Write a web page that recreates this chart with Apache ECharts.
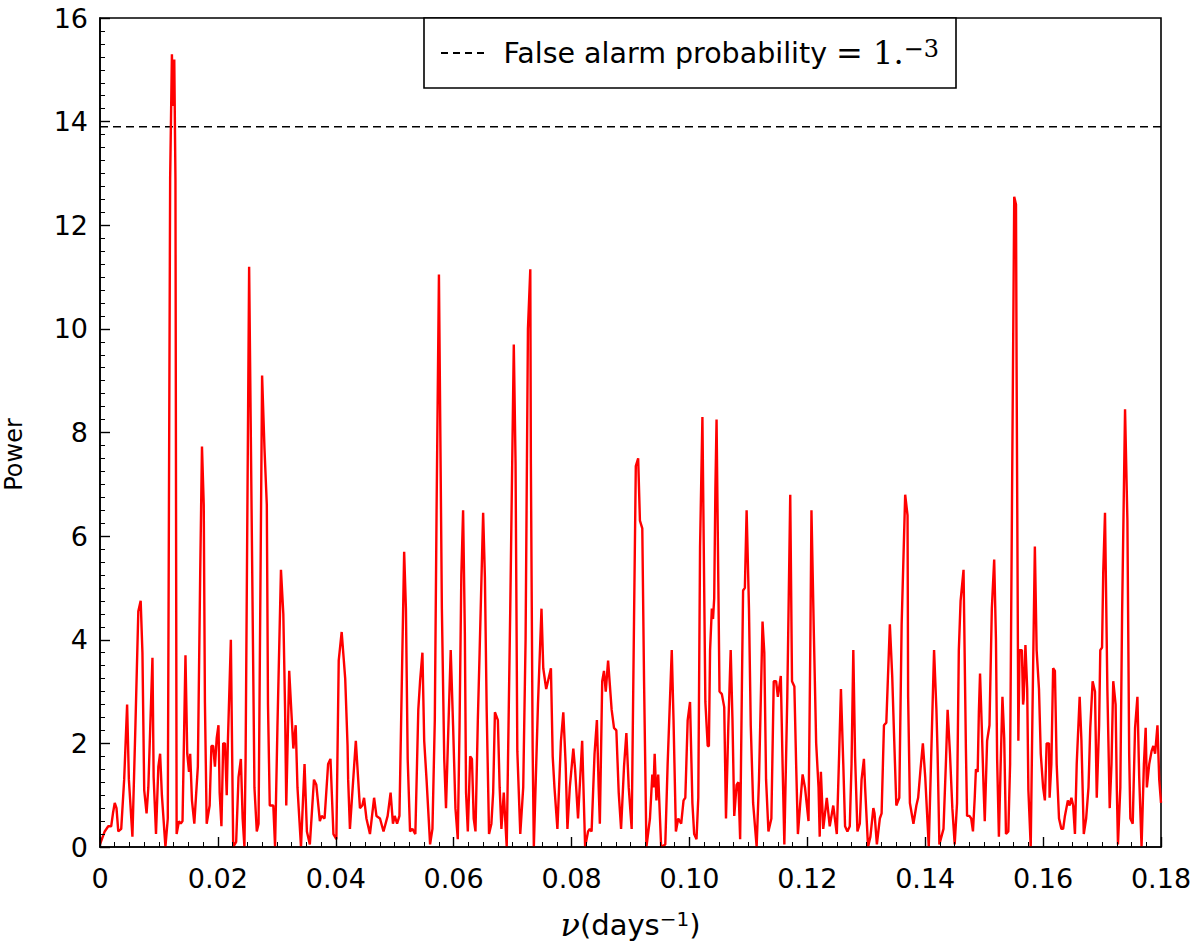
<!DOCTYPE html>
<html><head><meta charset="utf-8">
<script src="https://cdn.jsdelivr.net/npm/echarts@6/dist/echarts.min.js"></script>
<style>html,body{margin:0;padding:0;background:#fff}#c{width:1200px;height:949px}</style>
</head><body><div id="c"></div>
<script>
// Periodogram: [frequency (days^-1), power]
const powerLow = [
[0,0.05],[0.0008,0.3],[0.0014,0.4],[0.0019,0.4],[0.0022,0.65],[0.0025,0.85],[0.0028,0.75],[0.0031,0.3],[0.0036,0.35],
[0.0041,1.3],[0.0046,2.75],[0.0049,1.3],[0.0055,0.2],[0.0060,2.3],[0.0065,4.55],[0.0069,4.75],[0.0072,3.75],[0.0075,1.1],
[0.0079,0.65],[0.0082,1.15],[0.0089,3.65],[0.0091,1.35],[0.0095,0.25],[0.0099,1.55],[0.0102,1.8],[0.0105,1.0],[0.0111,0.0],
[0.0115,0.55],[0.0119,12.9],[0.0122,15.3],[0.0124,14.3],[0.0126,15.2],[0.0128,12.9],[0.0130,0.25],[0.0134,0.5],[0.0137,0.45],
[0.0140,0.5],[0.0145,3.7],[0.0148,1.8],[0.0151,1.45],[0.0153,1.8],[0.0156,0.9],[0.0160,0.45],[0.0166,1.55],[0.0170,5.3],
[0.0173,7.73],[0.0176,6.6],[0.0178,2.8],[0.0181,0.45],[0.0186,0.8],[0.0189,1.95],[0.0192,1.95],[0.0195,1.55],[0.0198,2.1],
[0.0201,2.35],[0.0203,1.05],[0.0206,0.4],[0.0209,2.0],[0.0212,2.0],[0.0215,1.0],[0.0217,2.05],[0.0222,4.0],[0.0226,0.0],
[0.0231,0.1],[0.0235,1.35],[0.0239,1.7],[0.0242,0.55],[0.0245,0.0],[0.0247,1.7],[0.0253,11.2],[0.0257,6.7],[0.0262,1.15],
[0.0266,0.3],[0.0269,0.45],[0.0275,9.1],[0.0279,7.7],[0.0283,6.6],[0.0285,2.75],[0.0288,0.8],[0.0294,0.8],[0.0297,0.0],
[0.0301,2.3],[0.0307,5.35],[0.0311,4.5],[0.0314,2.65],[0.0316,0.8],[0.0321,3.4],[0.0324,2.75],[0.0328,1.9],[0.0332,2.35],
[0.0335,1.15],[0.0341,0.0],[0.0347,1.6],[0.0351,0.3],[0.0356,0.05],[0.0363,1.3],[0.0367,1.2],[0.0373,0.5],[0.0376,0.6],
[0.0381,0.55],[0.0387,1.6],[0.0391,1.7],[0.0396,0.25],[0.0401,0.15],[0.0405,3.6],[0.0410,4.15],[0.0416,3.25],[0.0420,1.95],
[0.0421,1.3],[0.0424,0.35],[0.0434,2.05],[0.0441,0.75],[0.0445,0.8],[0.0448,0.95],[0.0452,0.55],[0.0458,0.25],[0.0465,0.95],
[0.0469,0.6],[0.0475,0.55],[0.0481,0.3],[0.0488,0.6],[0.0493,1.05],[0.0497,0.45],[0.0500,0.6],[0.0504,0.45],[0.0508,0.6],
[0.0516,5.7],[0.0519,4.6],[0.0522,1.7],[0.0526,0.3],[0.0530,0.35],[0.0535,0.25],[0.0540,2.65],[0.0543,3.2],[0.0547,3.75],
[0.0550,2.05],[0.0554,1.3],[0.0560,0.05]
];
const powerMid = [
[0.0564,0.35],[0.0568,2.45],[0.0571,6.5],[0.0575,11.05],[0.0580,4.6],[0.0584,1.7],[0.0587,0.75],[0.0591,2.3],[0.0595,3.8],
[0.0599,2.35],[0.0603,0.75],[0.0607,0.15],[0.0610,2.35],[0.0613,5.25],[0.0616,6.5],[0.0619,4.1],[0.0621,1.05],[0.0624,0.3],
[0.0628,1.75],[0.0631,1.7],[0.0634,0.55],[0.0637,0.3],[0.0641,2.45],[0.0644,3.75],[0.0650,6.45],[0.0653,5.2],[0.0656,2.65],
[0.0660,0.25],[0.0664,0.45],[0.0667,1.05],[0.0670,2.6],[0.0675,2.45],[0.0678,1.15],[0.0681,0.35],[0.0685,1.05],[0.0690,0.0],
[0.0696,4.6],[0.0702,9.7],[0.0705,7.4],[0.0708,1.85],[0.0713,0.25],[0.0718,1.15],[0.0722,4.0],[0.0726,10.0],[0.0730,11.15],
[0.0731,7.4],[0.0734,1.9],[0.0736,0.0],[0.0743,2.75],[0.0749,4.6],[0.0752,3.45],[0.0757,3.05],[0.0765,3.45],[0.0768,1.75],
[0.0771,1.15],[0.0776,0.35],[0.0782,2.05],[0.0786,2.6],[0.0790,1.6],[0.0793,0.35],[0.0797,1.15],[0.0803,1.9],[0.0806,1.5],
[0.0811,0.55],[0.0818,2.05],[0.0823,0.0],[0.0828,0.3],[0.0831,0.35],[0.0834,0.3],[0.0839,1.8],[0.0843,2.45],[0.0846,1.15],
[0.0848,0.45],[0.0852,3.2],[0.0855,3.4],[0.0858,3.0],[0.0862,3.6],[0.0868,2.65],[0.0872,2.3],[0.0876,2.25],[0.0880,1.05],
[0.0884,0.35],[0.0889,1.55],[0.0893,2.2],[0.0897,1.15],[0.0902,0.35],[0.0906,4.4],[0.0909,7.35],[0.0913,7.5],[0.0916,6.3],
[0.0920,6.15],[0.0923,3.2],[0.0927,0.0],[0.0933,0.55],[0.0937,1.4],[0.0939,1.15],[0.0941,1.8],[0.0944,0.9],[0.0947,1.4],
[0.0952,0.0],[0.0959,0.05],[0.0963,1.6],[0.0970,3.8],[0.0973,2.45],[0.0977,0.3],[0.0981,0.55],[0.0986,0.45],[0.0990,0.9],
[0.0993,0.95],[0.0997,2.45],[0.1001,2.8],[0.1005,0.85],[0.1008,0.25],[0.1012,0.15],[0.1015,0.95],[0.1018,5.8],[0.1022,8.3],
[0.1025,5.0],[0.1027,2.8],[0.1031,1.95],[0.1033,1.95],[0.1035,3.8],[0.1038,4.6],[0.1040,4.4],[0.1042,4.8],[0.1044,6.9],
[0.1046,8.25],[0.1049,5.1],[0.1051,3.0],[0.1055,2.95],[0.1059,2.7],[0.1062,0.55],[0.1066,2.35],[0.1070,3.8],[0.1073,2.45],
[0.1076,0.6],[0.1080,1.2],[0.1083,1.25],[0.1086,0.15],[0.1089,3.1],[0.1091,4.95],[0.1094,5.0],[0.1097,6.5],[0.1101,4.6],
[0.1104,2.35],[0.1108,0.85],[0.1114,0.0],[0.1118,1.3],[0.1124,4.35],[0.1127,3.75],[0.1130,1.3],[0.1134,0.3],[0.1139,0.55],
[0.1143,3.2],[0.1147,3.2],[0.1150,2.9],[0.1155,3.3],[0.1158,1.6],[0.1161,0.05]
];
const powerHigh = [
[0.1166,2.9],[0.1171,6.8],[0.1174,3.2],[0.1178,3.1],[0.1181,1.6],[0.1184,0.25],[0.1188,0.85],[0.1192,1.4],[0.1196,1.15],
[0.1202,0.5],[0.1205,3.8],[0.1207,6.5],[0.1211,4.15],[0.1215,2.0],[0.1219,1.15],[0.1221,0.2],[0.1223,1.45],[0.1227,0.35],
[0.1233,0.95],[0.1238,0.4],[0.1244,0.8],[0.1250,0.25],[0.1254,1.8],[0.1257,3.05],[0.1261,1.6],[0.1264,0.4],[0.1268,0.3],
[0.1272,0.4],[0.1275,1.6],[0.1278,3.8],[0.1281,1.75],[0.1285,0.3],[0.1289,0.45],[0.1292,1.3],[0.1296,1.7],[0.1298,1.15],
[0.1303,0.0],[0.1307,0.2],[0.1312,0.75],[0.1314,0.65],[0.1318,0.05],[0.1323,0.55],[0.1326,0.65],[0.1330,2.35],[0.1334,2.4],
[0.1340,4.3],[0.1344,3.3],[0.1347,2.2],[0.1351,0.8],[0.1356,0.95],[0.1360,4.3],[0.1366,6.8],[0.1370,6.4],[0.1371,2.9],
[0.1374,0.85],[0.1380,0.45],[0.1385,0.8],[0.1388,0.95],[0.1392,1.5],[0.1396,2.0],[0.1400,1.35],[0.1406,0.0],[0.1410,1.7],
[0.1415,3.8],[0.1419,2.65],[0.1421,1.8],[0.1424,0.05],[0.1431,0.35],[0.1435,1.6],[0.1438,2.65],[0.1442,1.8],[0.1446,0.75],
[0.1450,0.05],[0.1454,0.85],[0.1457,3.8],[0.1460,4.75],[0.1465,5.35],[0.1466,4.5],[0.1469,1.9],[0.1471,0.6],[0.1475,0.6],
[0.1478,0.55],[0.1481,0.3],[0.1484,0.95],[0.1486,1.5],[0.1489,1.45],[0.1491,2.6],[0.1493,3.35],[0.1496,2.3],[0.1499,1.15],
[0.1501,0.5],[0.1505,2.05],[0.1509,2.35],[0.1513,4.6],[0.1517,5.55],[0.1520,4.0],[0.1522,1.7],[0.1525,0.2],[0.1528,1.6],
[0.1531,2.9],[0.1534,2.1],[0.1537,0.25],[0.1541,0.3],[0.1544,1.6],[0.1547,6.3],[0.1551,12.55],[0.1554,12.4],[0.1555,9.3],
[0.1558,2.05],[0.1560,3.8],[0.1564,3.8],[0.1566,2.75],[0.1567,2.85],[0.1570,3.9],[0.1573,3.05],[0.1575,1.1],[0.1579,0.0],
[0.1582,2.65],[0.1586,5.8],[0.1589,3.8],[0.1593,3.05],[0.1596,1.8],[0.1600,1.15],[0.1603,0.9],[0.1606,2.0],[0.1610,2.0],
[0.1611,0.95],[0.1614,1.6],[0.1617,3.45],[0.1620,3.4],[0.1623,1.6],[0.1627,0.55],[0.1631,0.35],[0.1634,0.35],[0.1637,0.6],
[0.1642,0.9],[0.1645,0.8],[0.1648,0.95],[0.1651,0.8],[0.1654,0.25],[0.1657,1.6],[0.1662,2.9],[0.1665,2.05],[0.1669,0.25],
[0.1673,0.55],[0.1677,1.15],[0.1680,2.3],[0.1684,3.2],[0.1688,3.0],[0.1691,0.95],[0.1695,2.35],[0.1697,3.8],[0.1700,3.85],
[0.1702,5.3],[0.1705,6.45],[0.1709,3.05],[0.1713,0.75],[0.1716,1.6],[0.1719,3.2],[0.1723,2.75],[0.1725,1.15],[0.1727,0.05],
[0.1731,1.15],[0.1734,4.5],[0.1739,8.45],[0.1743,6.3],[0.1746,1.8],[0.1748,0.55],[0.1752,0.45],[0.1756,2.3],[0.1760,2.9],
[0.1763,1.35],[0.1767,0.0],[0.1771,1.6],[0.1774,2.3],[0.1776,1.15],[0.1780,1.6],[0.1784,1.85],[0.1787,1.95],[0.1790,1.8],
[0.1794,2.35],[0.1797,1.3],[0.18,0.85]
];
const falseAlarmLevel = 13.9;
const freqRange = [0, 0.18];
const xTickStep = 0.02;
const powerRange = [0, 16];
const yTickStep = 2;

const periodogram = powerLow.concat(powerMid, powerHigh);
const sans = '"DejaVu Sans", sans-serif';
const serif = '"DejaVu Serif", serif';

const chart = echarts.init(document.getElementById('c'), null, {renderer: 'svg'});
function axisCommon() {
  return {
    z: 10,
    axisLine: {show: true, onZero: false, lineStyle: {color: '#000', width: 1.6}},
    axisTick: {show: true, inside: true, length: 10, lineStyle: {color: '#000', width: 1.4}},
    minorTick: {show: true, splitNumber: 8, length: 5, lineStyle: {color: '#000', width: 1}},
    splitLine: {show: false},
    minorSplitLine: {show: false}
  };
}
chart.setOption({
  animation: false,
  backgroundColor: '#fff',
  grid: {left: 100, right: 39, top: 18, bottom: 102, outerBoundsMode: 'none', containLabel: false,
         show: true, borderColor: '#000', borderWidth: 1.6, backgroundColor: 'transparent'},
  legend: {
    left: 424, top: 18, z: 20,
    data: ['False alarm probability'],
    icon: 'path://M0,0h7v2h-7z M12,0h7v2h-7z M24,0h7v2h-7z M36,0h7v2h-7z',
    itemWidth: 46, itemHeight: 2,
    padding: [19, 17, 19, 17],
    borderColor: '#000', borderWidth: 1.6, borderRadius: 0, backgroundColor: '#fff',
    itemStyle: {color: '#000'},
    formatter: function (name) { return '{pad| }' + name + ' {m|= 1.}{s|−3}'; },
    textStyle: {
      color: '#000', fontSize: 28.5, fontFamily: sans, lineHeight: 32,
      rich: {
        pad: {width: 13},
        m: {fontFamily: serif, fontSize: 32, color: '#000', lineHeight: 32},
        s: {fontFamily: serif, fontSize: 24, color: '#000', verticalAlign: 'top', lineHeight: 18}
      }
    }
  },
  xAxis: [
    Object.assign(axisCommon(), {
      type: 'value', min: freqRange[0], max: freqRange[1], interval: xTickStep,
      name: '{i|ν}(days{s|−1})', nameLocation: 'middle', nameGap: 62,
      nameTextStyle: {
        fontFamily: sans, fontSize: 29, color: '#000',
        rich: {
          i: {fontFamily: serif, fontStyle: 'italic', fontSize: 32, color: '#000'},
          s: {fontFamily: sans, fontSize: 20, color: '#000', verticalAlign: 'top', lineHeight: 14}
        }
      },
      axisLabel: {
        color: '#000', fontSize: 27, fontFamily: sans, margin: 18,
        formatter: v => v === 0 ? '0' : v.toFixed(2)
      }
    }),
    {type: 'value', min: freqRange[0], max: freqRange[1], show: false, position: 'top'}
  ],
  yAxis: [
    Object.assign(axisCommon(), {
      type: 'value', min: powerRange[0], max: powerRange[1], interval: yTickStep,
      name: 'Power', nameLocation: 'middle', nameGap: 74, nameRotate: 90,
      nameTextStyle: {fontFamily: sans, fontSize: 24, color: '#000', padding: [0, 44, 0, 0]},
      axisLabel: {color: '#000', fontSize: 27, fontFamily: sans, margin: 12}
    }),
    {type: 'value', min: powerRange[0], max: powerRange[1], show: false, position: 'right'}
  ],
  series: [
    {
      name: 'Periodogram', type: 'line', data: periodogram, xAxisIndex: 1, yAxisIndex: 1,
      showSymbol: false, symbol: 'none',
      lineStyle: {color: '#ff0000', width: 2.4}, z: 3
    },
    {
      name: 'False alarm probability', type: 'line', xAxisIndex: 0, yAxisIndex: 0,
      data: [[freqRange[0], falseAlarmLevel], [freqRange[1], falseAlarmLevel]],
      showSymbol: false, symbol: 'none',
      itemStyle: {color: '#000'},
      lineStyle: {color: '#000', width: 1.6, type: [8, 5]}, z: 2
    }
  ]
});
</script></body></html>
